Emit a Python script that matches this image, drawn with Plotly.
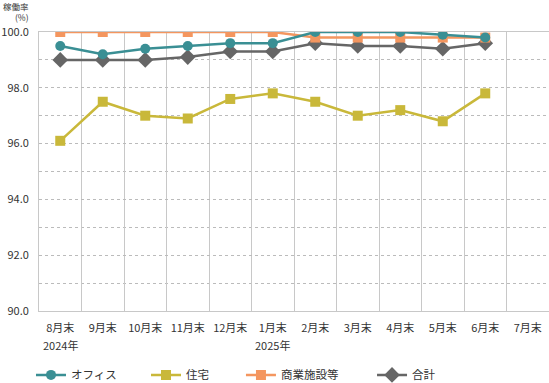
import plotly.graph_objects as go

categories = ["8月末", "9月末", "10月末", "11月末", "12月末", "1月末", "2月末", "3月末", "4月末", "5月末", "6月末", "7月末"]
year_labels = {"8月末": "2024年", "1月末": "2025年"}

office = [99.5, 99.2, 99.4, 99.5, 99.6, 99.6, 100.0, 100.0, 100.0, 99.9, 99.8, None]
residential = [96.1, 97.5, 97.0, 96.9, 97.6, 97.8, 97.5, 97.0, 97.2, 96.8, 97.8, None]
commercial = [100.0, 100.0, 100.0, 100.0, 100.0, 100.0, 99.8, 99.8, 99.8, 99.8, 99.8, None]
total = [99.0, 99.0, 99.0, 99.1, 99.3, 99.3, 99.6, 99.5, 99.5, 99.4, 99.6, None]

FONT = "Noto Sans CJK JP, sans-serif"
TXT = "#333333"

series = {
    "オフィス": (office, "#3a8f94", "circle", 10, "legend", -0.0157),
    "住宅": (residential, "#c9b83a", "square", 10, "legend2", 0.2098),
    "商業施設等": (commercial, "#f4965f", "square", 10, "legend3", 0.396),
    "合計": (total, "#666666", "diamond", 12, "legend4", 0.653),
}
draw_order = ["住宅", "合計", "商業施設等", "オフィス"]

fig = go.Figure()
for name in draw_order:
    vals, color, sym, msize, leg, _ = series[name]
    fig.add_trace(go.Scatter(
        x=categories, y=vals, name=name, mode="lines+markers",
        line=dict(color=color, width=2.5),
        marker=dict(symbol=sym, size=msize, color=color),
        legend=leg, connectgaps=False,
    ))

legends = {}
for name, (vals, color, sym, msize, leg, lx) in series.items():
    legends[leg] = dict(orientation="h", x=lx, xanchor="left", y=-0.229, yanchor="middle",
                        font=dict(size=11.5, color=TXT, family=FONT), bgcolor="rgba(0,0,0,0)",
                        itemwidth=30)

fig.update_layout(
    width=549, height=383,
    margin=dict(l=39, r=0, t=32, b=72, autoexpand=False),
    paper_bgcolor="white", plot_bgcolor="white",
    font=dict(family=FONT, size=11, color=TXT),
    showlegend=True,
    **legends,
)
fig.update_xaxes(
    type="category", categoryorder="array", categoryarray=categories,
    tickmode="array", tickvals=categories, ticktext=categories, tickangle=0,
    tickson="boundaries", showgrid=True, gridcolor="#c8c8c8", gridwidth=1,
    showline=True, linecolor="#c8c8c8", linewidth=1, mirror=True,
    ticks="", ticklabelstandoff=7, tickfont=dict(size=11, color=TXT),
    range=[-0.5, 11.5], zeroline=False, automargin=False,
)
fig.update_yaxes(
    range=[90, 100], tickmode="array", tickvals=[90, 92, 94, 96, 98, 100],
    tickformat=".1f", showgrid=True, gridcolor="#bbbbbb", griddash="dot", gridwidth=1,
    minor=dict(dtick=1, showgrid=True, gridcolor="#bbbbbb", griddash="dot", gridwidth=1),
    showline=True, linecolor="#c8c8c8", linewidth=1, mirror=True,
    ticks="", ticklabelstandoff=7, tickfont=dict(size=11, color=TXT), zeroline=False,
    automargin=False,
)
for cat, yl in year_labels.items():
    fig.add_annotation(text=yl, xref="x", yref="paper", x=cat, y=0, yshift=-34,
                       yanchor="middle", showarrow=False, font=dict(size=11, color=TXT))

fig.add_annotation(text="稼働率<br>(%)", xref="paper", yref="paper", x=-0.0176, y=1.0,
                   yshift=21, xanchor="right", yanchor="middle", align="right",
                   showarrow=False, borderpad=0, font=dict(size=8.5, color=TXT))

fig.write_html("out.html", config={"displayModeBar": False},
               post_script="document.body.style.margin='0';document.body.style.padding='0';")
